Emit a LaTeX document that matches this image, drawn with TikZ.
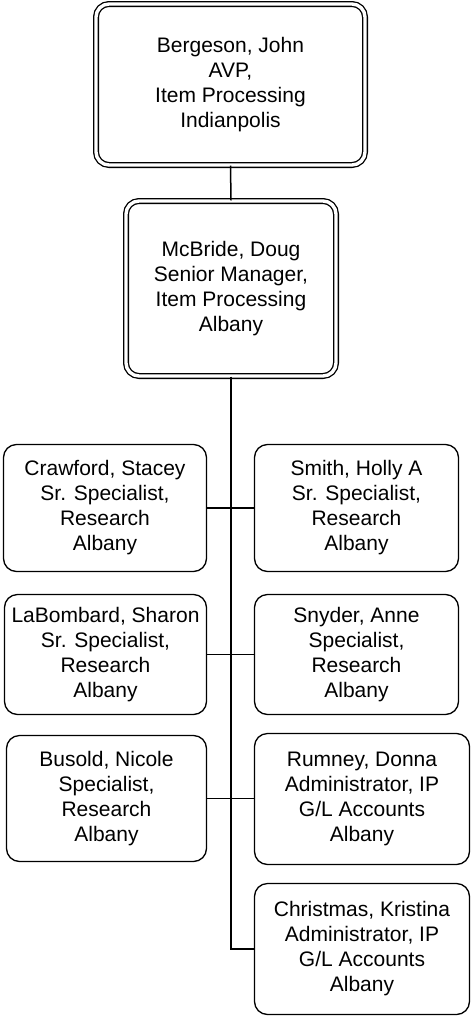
\documentclass[tikz,border=0pt]{standalone}
\usepackage{fontspec}
\setmainfont{Liberation Sans}
\usepackage{tikz}

\begin{document}
\begin{tikzpicture}[x=1pt,y=-1pt,
    person/.style={draw=black, line width=1.3pt, rounded corners=13pt, align=center, inner sep=0pt, font=\fontsize{21}{25}\selectfont},
    chief/.style={person, double, double distance=3.4pt, line width=1.3pt},
    link/.style={line width=1.5pt}]
    \useasboundingbox (0,0) rectangle (471,1017);
     \node [chief, minimum width=269pt, minimum height=161pt] (J) at (230.5,84.5) {Bergeson, John\\AVP,\\Item Processing\\Indianpolis};
     \node [chief, minimum width=210pt, minimum height=175pt] (D) at (231,288.5) {McBride, Doug\\Senior Manager,\\Item Processing\\Albany};
      \node [person, minimum width=203pt, minimum height=127pt] (C) at (105,508) {Crawford, Stacey\\Sr. Specialist,\\Research\\Albany};
      \node [person, minimum width=204pt, minimum height=127pt] (H) at (356.5,508) {Smith, Holly A\\Sr. Specialist,\\Research\\Albany};
      \node [person, minimum width=202pt, minimum height=120pt] (L) at (105.5,654.5) {LaBombard, Sharon\\Sr. Specialist,\\Research\\Albany};
      \node [person, minimum width=204pt, minimum height=120pt] (A) at (356.5,654.5) {Snyder, Anne\\Specialist,\\Research\\Albany};
       \node [person, minimum width=200pt, minimum height=126pt] (N) at (106.5,798.5) {Busold, Nicole\\Specialist,\\Research\\Albany};
       \node [person, minimum width=215pt, minimum height=131pt] (R) at (362,799) {Rumney, Donna\\Administrator, IP\\G/L Accounts\\Albany};
       \node [person, minimum width=215pt, minimum height=131pt] (K) at (362,949) {Christmas, Kristina\\Administrator, IP\\G/L Accounts\\Albany};
    \draw[link] (J.south) -- (D.north);
    \draw[link] (D.south) |- (K.west);
     \draw[link] (C.east) -- (H.west);
     \draw[link] (L.east) -- (A.west);
     \draw[link] (N.east) -- (N.east -| R.west);
\end{tikzpicture}
\end{document}
